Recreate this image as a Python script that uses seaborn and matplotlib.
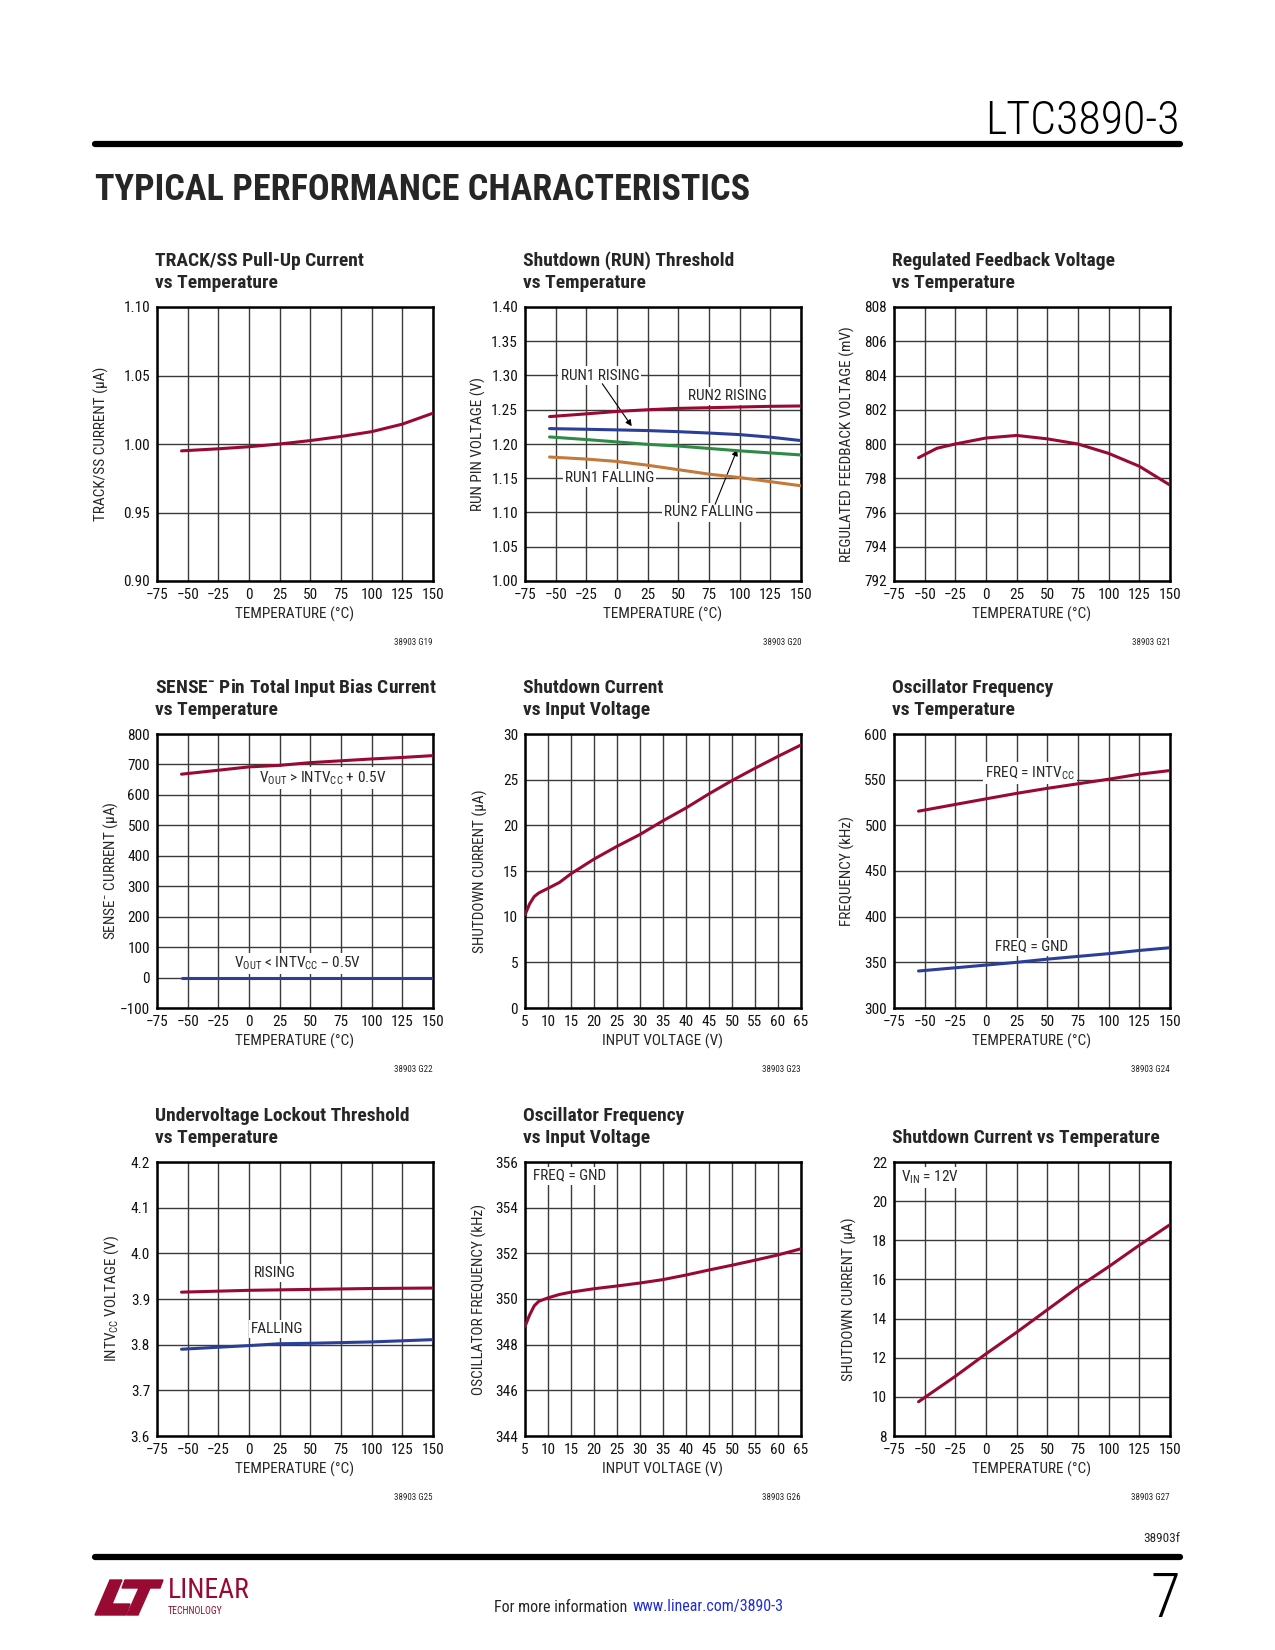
import seaborn as sns
import matplotlib.pyplot as plt
from matplotlib.ticker import FuncFormatter
from matplotlib.patches import Polygon

# ---- data ----
temp_track = [-55, -25, 0, 25, 50, 75, 100, 125, 150]
track_ss_current = [0.995, 0.9965, 0.998, 1.000, 1.0025, 1.0055, 1.009, 1.0145, 1.0225]

temp_run = [-55, -25, 0, 25, 50, 75, 100, 125, 150]
run2_rising = [1.240, 1.244, 1.2475, 1.250, 1.252, 1.253, 1.254, 1.255, 1.2555]
run1_rising = [1.2225, 1.2215, 1.2206, 1.2196, 1.218, 1.216, 1.2137, 1.210, 1.205]
run2_falling = [1.2103, 1.2065, 1.203, 1.1995, 1.197, 1.1935, 1.190, 1.187, 1.184]
run1_falling = [1.181, 1.178, 1.1745, 1.169, 1.1625, 1.156, 1.151, 1.145, 1.139]

temp_fb = [-55, -40, -25, 0, 25, 50, 75, 100, 125, 150]
fb_voltage = [799.2, 799.75, 800.0, 800.35, 800.5, 800.3, 800.0, 799.45, 798.7, 797.6]

temp_sense = [-55, -25, 0, 25, 50, 75, 100, 125, 150]
sense_high = [668, 681, 692, 697, 706, 712, 718, 723, 729]
sense_low = [0, 0, 0, 0, 0, 0, 0, 0, 0]

vin_sd = [5, 6, 7, 8, 10, 12.5, 15, 20, 25, 30, 35, 40, 45, 50, 55, 60, 65]
sd_current_vin = [10.2, 11.4, 12.2, 12.6, 13.1, 13.75, 14.7, 16.3, 17.7, 19.0, 20.5,
                  21.9, 23.45, 24.9, 26.25, 27.55, 28.8]

temp_osc = [-55, 0, 25, 50, 75, 100, 125, 150]
freq_intvcc = [515.5, 529, 535, 540.5, 545.5, 550.5, 556, 560]
freq_gnd = [340.5, 347, 350, 353.5, 356.5, 359.5, 363, 366]

temp_uvlo = [-55, 0, 25, 50, 100, 150]
uvlo_rising = [3.915, 3.919, 3.920, 3.921, 3.923, 3.924]
uvlo_falling = [3.790, 3.798, 3.802, 3.803, 3.806, 3.811]

vin_osc = [5, 6, 7, 8, 10, 12.5, 15, 20, 25, 30, 35, 40, 45, 50, 55, 60, 65]
osc_freq_vin = [348.8, 349.3, 349.7, 349.9, 350.05, 350.2, 350.3, 350.45, 350.57, 350.7,
                350.85, 351.05, 351.27, 351.48, 351.7, 351.93, 352.2]

temp_sd = [-55, -25, 0, 25, 50, 75, 100, 125, 150]
sd_current_temp = [9.75, 11.05, 12.2, 13.3, 14.45, 15.6, 16.65, 17.75, 18.8]

temp_ticks = [-75, -50, -25, 0, 25, 50, 75, 100, 125, 150]
vin_ticks = list(range(5, 70, 5))

RED = '#990A33'
BLUE = '#2B3F98'
GREEN = '#2F8A45'
ORANGE = '#C27A3A'

sns.set_style('white')
FONT = ['Roboto Condensed', 'Roboto', 'DejaVu Sans']
plt.rcParams['font.family'] = FONT
plt.rcParams['mathtext.default'] = 'regular'

W, H = 1275, 1650
fig = plt.figure(figsize=(W / 100, H / 100), dpi=100)

col_left = [157, 525, 894]
row_top = [307, 734, 1162]
AW, AH = 276, 274
TXT = 11


def make_axes(r, c):
    l, t = col_left[c], row_top[r]
    return fig.add_axes([l / W, 1 - (t + AH) / H, AW / W, AH / H])


def setup(ax, r, c, xticks, yticks, yfmt, xlabel, ylabel, yoff, title, code):
    ax.set_xlim(xticks[0], xticks[-1])
    ax.set_ylim(yticks[0], yticks[-1])
    ax.set_xticks(xticks)
    ax.set_yticks(yticks)
    ax.yaxis.set_major_formatter(FuncFormatter(lambda v, p: (yfmt % v).replace('-', '\u2212')))
    ax.grid(True, color='#3a3a3a', lw=1.0)
    ax.set_axisbelow(True)
    for s in ax.spines.values():
        s.set_linewidth(1.8)
        s.set_color('black')
    ax.tick_params(length=0, labelsize=11, pad=5, colors='#111111')
    ax.set_xlabel(xlabel, fontsize=TXT)
    ax.set_ylabel(ylabel, fontsize=TXT)
    ax.xaxis.set_label_coords(0.5, -26 / AH)
    ax.yaxis.set_label_coords(-(yoff - 7) / AW, 0.5)
    l, t = col_left[c], row_top[r]
    lines = title.split('\n')
    for i, line in enumerate(reversed(lines)):
        fig.text((l - 2) / W, 1 - (t - 24 - 22 * i) / H, line, fontsize=14,
                 fontweight='bold', ha='left', va='center')
    fig.text((l + AW) / W, 1 - (t + AH + 61) / H, code, fontsize=6.5,
             ha='right', va='center')


def draw(ax, x, y, color):
    sns.lineplot(x=x, y=y, ax=ax, color=color, lw=2.2, sort=False, zorder=4)


box = dict(facecolor='white', edgecolor='none', pad=1.5)
arrow = dict(arrowstyle='-|>', color='black', lw=0.8, mutation_scale=9, shrinkA=0, shrinkB=0)

# 1. TRACK/SS pull-up current
ax = make_axes(0, 0)
draw(ax, temp_track, track_ss_current, RED)
setup(ax, 0, 0, temp_ticks, [0.90, 0.95, 1.00, 1.05, 1.10], '%.2f',
      'TEMPERATURE (°C)', 'TRACK/SS CURRENT (µA)', 55,
      'TRACK/SS Pull-Up Current\nvs Temperature', '38903 G19')

# 2. Shutdown (RUN) threshold
ax = make_axes(0, 1)
draw(ax, temp_run, run2_rising, RED)
draw(ax, temp_run, run1_rising, BLUE)
draw(ax, temp_run, run2_falling, GREEN)
draw(ax, temp_run, run1_falling, ORANGE)
setup(ax, 0, 1, temp_ticks, [1.00, 1.05, 1.10, 1.15, 1.20, 1.25, 1.30, 1.35, 1.40], '%.2f',
      'TEMPERATURE (°C)', 'RUN PIN VOLTAGE (V)', 46,
      'Shutdown (RUN) Threshold\nvs Temperature', '38903 G20')
ax.text(-14, 1.30, 'RUN1 RISING', fontsize=TXT, ha='center', va='center', bbox=box)
ax.annotate('', xy=(12, 1.226), xytext=(-12, 1.288), arrowprops=arrow)
ax.text(90, 1.270, 'RUN2 RISING', fontsize=TXT, ha='center', va='center', bbox=box)
ax.text(-6, 1.15, 'RUN1 FALLING', fontsize=TXT, ha='center', va='center', bbox=box)
ax.text(75, 1.10, 'RUN2 FALLING', fontsize=TXT, ha='center', va='center', bbox=box)
ax.annotate('', xy=(98, 1.192), xytext=(80, 1.112), arrowprops=arrow)

# 3. Regulated feedback voltage
ax = make_axes(0, 2)
draw(ax, temp_fb, fb_voltage, RED)
setup(ax, 0, 2, temp_ticks, list(range(792, 809, 2)), '%d',
      'TEMPERATURE (°C)', 'REGULATED FEEDBACK VOLTAGE (mV)', 46,
      'Regulated Feedback Voltage\nvs Temperature', '38903 G21')

# 4. SENSE- pin bias current
ax = make_axes(1, 0)
draw(ax, temp_sense, sense_high, RED)
draw(ax, temp_sense, sense_low, BLUE)
setup(ax, 1, 0, temp_ticks, list(range(-100, 801, 100)), '%d',
      'TEMPERATURE (°C)', 'SENSE$^{-}$ CURRENT (µA)', 44,
      'SENSE$^{-}$ Pin Total Input Bias Current\nvs Temperature', '38903 G22')
ax.text(60, 655, 'V$_{OUT}$ > INTV$_{CC}$ + 0.5V', fontsize=TXT, ha='center', va='center', bbox=box)
ax.text(40, 46, 'V$_{OUT}$ < INTV$_{CC}$ – 0.5V', fontsize=TXT, ha='center', va='center', bbox=box)

# 5. Shutdown current vs input voltage
ax = make_axes(1, 1)
draw(ax, vin_sd, sd_current_vin, RED)
setup(ax, 1, 1, vin_ticks, list(range(0, 31, 5)), '%d',
      'INPUT VOLTAGE (V)', 'SHUTDOWN CURRENT (µA)', 44,
      'Shutdown Current\nvs Input Voltage', '38903 G23')

# 6. Oscillator frequency vs temperature
ax = make_axes(1, 2)
draw(ax, temp_osc, freq_intvcc, RED)
draw(ax, temp_osc, freq_gnd, BLUE)
setup(ax, 1, 2, temp_ticks, list(range(300, 601, 50)), '%d',
      'TEMPERATURE (°C)', 'FREQUENCY (kHz)', 46,
      'Oscillator Frequency\nvs Temperature', '38903 G24')
ax.text(36, 557, 'FREQ = INTV$_{CC}$', fontsize=TXT, ha='center', va='center', bbox=box)
ax.text(37, 367, 'FREQ = GND', fontsize=TXT, ha='center', va='center', bbox=box)

# 7. UVLO threshold
ax = make_axes(2, 0)
draw(ax, temp_uvlo, uvlo_rising, RED)
draw(ax, temp_uvlo, uvlo_falling, BLUE)
setup(ax, 2, 0, temp_ticks, [3.6, 3.7, 3.8, 3.9, 4.0, 4.1, 4.2], '%.1f',
      'TEMPERATURE (°C)', 'INTV$_{CC}$ VOLTAGE (V)', 43,
      'Undervoltage Lockout Threshold\nvs Temperature', '38903 G25')
ax.text(21, 3.957, 'RISING', fontsize=TXT, ha='center', va='center', bbox=box)
ax.text(23, 3.834, 'FALLING', fontsize=TXT, ha='center', va='center', bbox=box)

# 8. Oscillator frequency vs input voltage
ax = make_axes(2, 1)
draw(ax, vin_osc, osc_freq_vin, RED)
setup(ax, 2, 1, vin_ticks, list(range(344, 357, 2)), '%d',
      'INPUT VOLTAGE (V)', 'OSCILLATOR FREQUENCY (kHz)', 45,
      'Oscillator Frequency\nvs Input Voltage', '38903 G26')
ax.text(6.7, 355.4, 'FREQ = GND', fontsize=TXT, ha='left', va='center', bbox=box)

# 9. Shutdown current vs temperature
ax = make_axes(2, 2)
draw(ax, temp_sd, sd_current_temp, RED)
setup(ax, 2, 2, temp_ticks, list(range(8, 23, 2)), '%d',
      'TEMPERATURE (°C)', 'SHUTDOWN CURRENT (µA)', 44,
      'Shutdown Current vs Temperature', '38903 G27')
ax.text(-69, 21.2, 'V$_{IN}$ = 12V', fontsize=TXT, ha='left', va='center', bbox=box)

# ---- page furniture ----
fig.text(1180 / W, 1 - 121 / H, 'LTC3890-3', fontsize=33, ha='right', va='center',
         fontweight='light', color='black')
fig.add_artist(plt.Line2D([95 / W, 1180 / W], [1 - 144 / H] * 2, color='black', lw=4.5))
fig.text(95 / W, 1 - 190 / H, 'TYPICAL PERFORMANCE CHARACTERISTICS', fontsize=26,
         fontweight='black', ha='left', va='center')

fig.text(1180 / W, 1 - 1539 / H, '38903f', fontsize=9.5, ha='right', va='center')
fig.add_artist(plt.Line2D([95 / W, 1180 / W], [1 - 1557 / H] * 2, color='black', lw=4.5))
fig.text(1180 / W, 1 - 1600 / H, '7', fontsize=44, ha='right', va='center',
         fontweight='light', color='black')
fig.text(631 / W, 1 - 1607 / H, 'For more information ', fontsize=11.5, ha='right', va='center')
fig.text(633 / W, 1 - 1607 / H, 'www.linear.com/3890-3', fontsize=11.5, ha='left', va='center',
         color='#1f2fd6')

# LT logo, roughly
logo_l = [(95, 1615), (110, 1580), (122, 1580), (112, 1604), (130, 1604), (126, 1615)]
logo_t = [(125, 1580), (163, 1580), (160, 1588), (150, 1588), (138, 1615), (127, 1615),
          (139, 1588), (122, 1588)]
for pts in (logo_l, logo_t):
    fig.add_artist(Polygon([(x / W, 1 - y / H) for x, y in pts], closed=True,
                           transform=fig.transFigure, color=RED))
fig.text(168 / W, 1 - 1590 / H, 'LINEAR', fontsize=20, color=RED, ha='left', va='center')
fig.text(168 / W, 1 - 1611 / H, 'TECHNOLOGY', fontsize=7, color=RED, ha='left', va='center')

fig.savefig('out.png', dpi=100)
